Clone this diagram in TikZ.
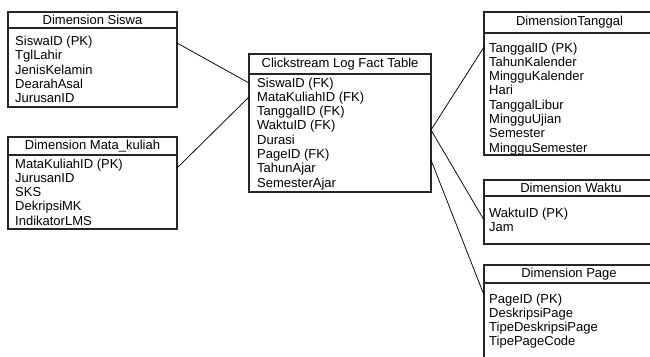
\documentclass[tikz,border=0pt]{standalone}
\usepackage{fontspec}
\setmainfont{Liberation Sans}
\begin{document}
\begin{tikzpicture}[x=1pt,y=-1pt,
  box/.style={draw=black!85,line width=1.1pt},
  hdr/.style={inner sep=0pt,anchor=center,font=\fontsize{13}{14}\selectfont},
  row/.style={inner sep=0pt,anchor=base west,font=\fontsize{13}{14}\selectfont},
  link/.style={draw=black,line width=0.75pt}]
\clip (0,0) rectangle (650,356);
\useasboundingbox (0,0) rectangle (650,356);
\def\rs{14.3}
% Dimension Siswa
\draw[box] (8,12) rectangle (177,107);
\draw[box] (8,28) -- (177,28);
\node[hdr] (siswaH) at (92.5,20) {Dimension Siswa};
\foreach \t [count=\i] in {SiswaID (PK),TglLahir,JenisKelamin,DearahAsal,JurusanID}
  \node[row] (siswa\i) at (15,45.5+\rs*\i-\rs) {\t};
\coordinate (siswaP) at (177,43);
% Dimension Mata_kuliah
\draw[box] (8,137) rectangle (177,229);
\draw[box] (8,155) -- (177,155);
\node[hdr] (mkH) at (92.5,146.5) {Dimension Mata\_kuliah};
\foreach \t [count=\i] in {MataKuliahID (PK),JurusanID,SKS,DekripsiMK,IndikatorLMS}
  \node[row] (mk\i) at (15,168+\rs*\i-\rs) {\t};
\coordinate (mkP) at (177,168);
% Fact table
\draw[box] (249,54) rectangle (431,192);
\draw[box] (249,74) -- (431,74);
\node[hdr] (factH) at (340,64.5) {Clickstream Log Fact Table};
\foreach \t [count=\i] in {SiswaID (FK),MataKuliahID (FK),TanggalID (FK),WaktuID (FK),Durasi,PageID (FK),TahunAjar,SemesterAjar}
  \node[row] (fact\i) at (257,87+\rs*\i-\rs) {\t};
\coordinate (fS) at (249,83);
\coordinate (fM) at (249,97);
\coordinate (fT) at (431,130);
\coordinate (fP) at (431,160);
% DimensionTanggal
\draw[box] (484,12) rectangle (655,155);
\draw[box] (484,33) -- (655,33);
\node[hdr] (tglH) at (569.5,22.5) {DimensionTanggal};
\foreach \t [count=\i] in {TanggalID (PK),TahunKalender,MingguKalender,Hari,TanggalLibur,MingguUjian,Semester,MingguSemester}
  \node[row] (tgl\i) at (489,52+\rs*\i-\rs) {\t};
\coordinate (tglP) at (484,47);
% Dimension Waktu
\draw[box] (484,180) rectangle (655,244);
\draw[box] (484,196) -- (655,196);
\node[hdr] (wH) at (571,188) {Dimension Waktu};
\foreach \t [count=\i] in {WaktuID (PK),Jam}
  \node[row] (w\i) at (489,217+\rs*\i-\rs) {\t};
\coordinate (wP) at (484,220);
% Dimension Page
\draw[box] (484,265) rectangle (655,370);
\draw[box] (484,283) -- (655,283);
\node[hdr] (pH) at (569,274) {Dimension Page};
\foreach \t [count=\i] in {PageID (PK),DeskripsiPage,TipeDeskripsiPage,TipePageCode}
  \node[row] (p\i) at (489,303+\rs*\i-\rs) {\t};
\coordinate (pP) at (484,295);
% connectors
\draw[link] (siswaP) -- (fS);
\draw[link] (mkP) -- (fM);
\draw[link] (fT) -- (tglP);
\draw[link] (fT) -- (wP);
\draw[link] (fP) -- (pP);
\end{tikzpicture}
\end{document}
